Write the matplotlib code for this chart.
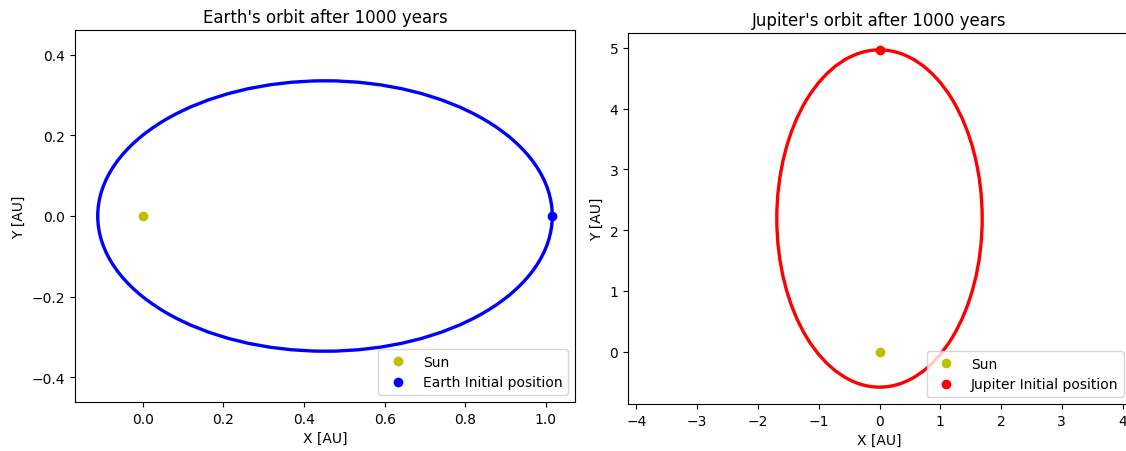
import matplotlib
matplotlib.use("Agg")
import matplotlib.pyplot as plt
from matplotlib.patches import Ellipse

# orbit shapes (centre, full width, full height) in AU
earth_center = (0.452, 0.0)
earth_size = (1.128, 0.671)
earth_start = (1.015, 0.0)

jupiter_center = (0.0, 2.19)
jupiter_size = (3.38, 5.55)
jupiter_start = (0.0, 4.955)

sun_pos = (0.0, 0.0)


def draw_orbit(ax, name, center, size, start, color):
    orbit = Ellipse(center, size[0], size[1], fill=False, edgecolor=color, linewidth=2.4)
    ax.add_patch(orbit)
    ax.plot(sun_pos[0], sun_pos[1], "yo", label="Sun")
    ax.plot(start[0], start[1], "o", color=color, label=f"{name} Initial position")
    ax.axis("equal")
    ax.set_xlabel("X [AU]")
    ax.set_ylabel("Y [AU]")
    ax.set_title(f"{name}'s orbit after 1000 years")
    ax.legend(loc="lower right")


def main():
    fig = plt.figure(figsize=(11.26, 4.52), dpi=100)
    ax1 = fig.add_axes([75 / 1126, 1 - 403 / 452, 500 / 1126, 372 / 452])
    ax2 = fig.add_axes([628 / 1126, 1 - 405 / 452, 503 / 1126, 371 / 452])

    draw_orbit(ax1, "Earth", earth_center, earth_size, earth_start, "b")
    draw_orbit(ax2, "Jupiter", jupiter_center, jupiter_size, jupiter_start, "r")

    fig.savefig("out.png", dpi=100)


if __name__ == "__main__":
    main()
